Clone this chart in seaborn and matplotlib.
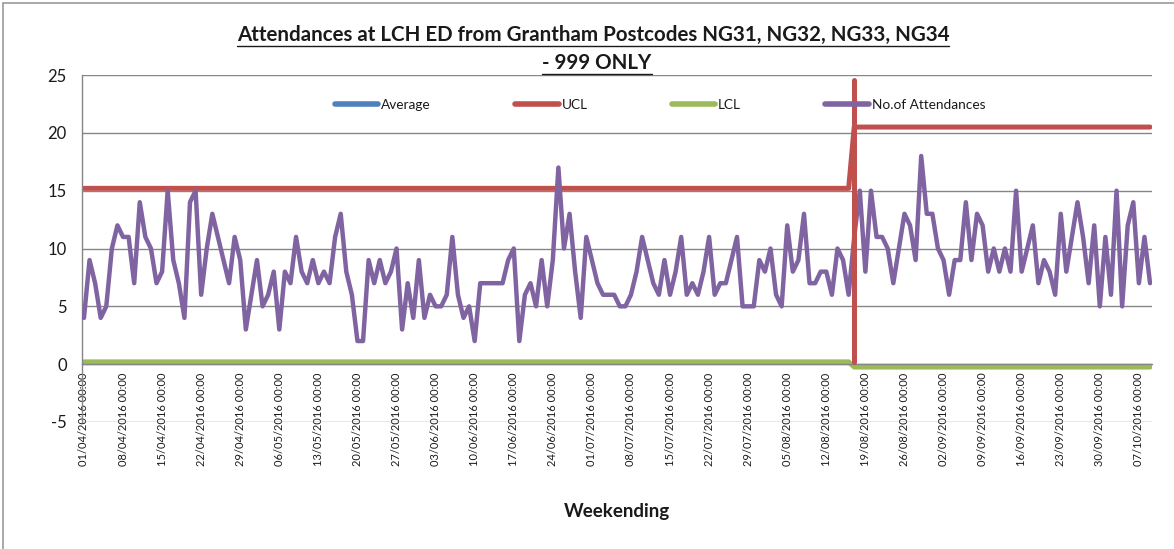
import matplotlib
matplotlib.use("Agg")
import matplotlib.pyplot as plt
import seaborn as sns
import pandas as pd
from matplotlib.lines import Line2D
from matplotlib.patches import Rectangle

# daily 999 attendances, 01/04/2016 onwards
attendances = [
    4, 9, 7, 4, 5, 10, 12, 11, 11, 7, 14, 11, 10, 7, 8, 15, 9, 7, 4, 14,
    15, 6, 10, 13, 11, 9, 7, 11, 9, 3, 6, 9, 5, 6, 8, 3, 8, 7, 11, 8,
    7, 9, 7, 8, 7, 11, 13, 8, 6, 2, 2, 9, 7, 9, 7, 8, 10, 3, 7, 4,
    9, 4, 6, 5, 5, 6, 11, 6, 4, 5, 2, 7, 7, 7, 7, 7, 9, 10, 2, 6,
    7, 5, 9, 5, 9, 17, 10, 13, 8, 4, 11, 9, 7, 6, 6, 6, 5, 5, 6, 8,
    11, 9, 7, 6, 9, 6, 8, 11, 6, 7, 6, 8, 11, 6, 7, 7, 9, 11, 5, 5,
    5, 9, 8, 10, 6, 5, 12, 8, 9, 13, 7, 7, 8, 8, 6, 10, 9, 6, 11, 15,
    8, 15, 11, 11, 10, 7, 10, 13, 12, 9, 18, 13, 13, 10, 9, 6, 9, 9, 14, 9,
    13, 12, 8, 10, 8, 10, 8, 15, 8, 10, 12, 7, 9, 8, 6, 13, 8, 11, 14, 11,
    7, 12, 5, 11, 6, 15, 5, 12, 14, 7, 11, 7,
]
start_date = "2016-04-01"

# control limits before / after the process change
change_day = 138
ucl = [15.2] * change_day + [20.5] * (len(attendances) - change_day)
lcl = [0.2] * change_day + [-0.25] * (len(attendances) - change_day)
change_line = [0.2, 24.6]

title_1 = "Attendances at LCH ED from Grantham Postcodes NG31, NG32, NG33, NG34"
title_2 = "- 999 ONLY"

BLUE, RED, GREEN, PURPLE = "#4F81BD", "#C0504D", "#9BBB59", "#8064A2"
GREY = "#868686"
TEXT = "#1a1a1a"

sns.set_style("white")
plt.rcParams["font.family"] = ["Lato", "DejaVu Sans"]
plt.rcParams["axes.unicode_minus"] = False

dates = pd.date_range(start_date, periods=len(attendances), freq="D")
df = pd.DataFrame({
    "day": range(len(dates)),
    "ucl": ucl,
    "lcl": lcl,
    "attendances": attendances,
})

W, H = 1174, 549
fig = plt.figure(figsize=(W / 100, H / 100), dpi=100)
ax = fig.add_axes([82 / W, 1 - 422 / H, (1152 - 82) / W, (422 - 75) / H])

line_kw = dict(solid_capstyle="round", solid_joinstyle="round")
sns.lineplot(data=df, x="day", y="ucl", color=RED, lw=3.6, ax=ax, **line_kw)
sns.lineplot(data=df, x="day", y="lcl", color=GREEN, lw=3.6, ax=ax, **line_kw)
sns.lineplot(data=df, x="day", y="attendances", color=PURPLE, lw=3.2, ax=ax, zorder=4, **line_kw)
sns.lineplot(x=[change_day] * 2, y=change_line, estimator=None, sort=False,
             color=RED, lw=3.6, ax=ax, zorder=5, **line_kw)

# horizontal axis crosses at zero, as in the Excel chart
for side in ("top", "right"):
    ax.spines[side].set_visible(False)
ax.spines["bottom"].set_position(("data", 0))
for side in ("bottom", "left"):
    ax.spines[side].set_color(GREY)
    ax.spines[side].set_linewidth(1)

n = len(attendances)
ax.set_xlim(-0.35, n - 1 + 0.35)
ax.set_ylim(-5, 25)
ax.set_yticks(range(-5, 26, 5))
ax.yaxis.grid(True, color=GREY, lw=1)
ax.set_axisbelow(True)

ticks = list(range(0, n, 7))
ax.set_xticks(ticks)
ax.set_xticklabels(dates[ticks].strftime("%d/%m/%Y %H:%M"), fontsize=8, color=TEXT)
ax.tick_params(axis="x", direction="out", length=4, width=1, color=GREY, pad=2,
               labelrotation=90)
ax.tick_params(axis="y", direction="out", length=5, width=1, color=GREY, pad=6,
               labelsize=12, labelcolor=TEXT)

ax.set_ylabel("")
ax.set_xlabel("Weekending", fontsize=13.5, fontweight="bold", color=TEXT)
ax.xaxis.set_label_coords(0.5, -0.232)

handles = [Line2D([], [], color=c, lw=4, solid_capstyle="round")
           for c in (BLUE, RED, GREEN, PURPLE)]
ax.legend(handles, ["Average", "UCL", "LCL", "No.of Attendances"],
          ncol=4, frameon=False, loc="center",
          bbox_to_anchor=(660 / W, 1 - 105 / H), bbox_transform=fig.transFigure,
          prop={"size": 9.8}, handlelength=3.2, handletextpad=0.2,
          columnspacing=6.2, labelcolor=TEXT)

t1 = fig.text(593 / W, 1 - 35 / H, title_1, ha="center", va="center",
              fontsize=14.8, fontweight="bold", color=TEXT)
t2 = fig.text(597 / W, 1 - 63 / H, title_2, ha="center", va="center",
              fontsize=14.8, fontweight="bold", color=TEXT)

# underline the title lines
fig.canvas.draw()
renderer = fig.canvas.get_renderer()
inv = fig.transFigure.inverted()
for t in (t1, t2):
    bb = t.get_window_extent(renderer)
    (x0, y0), (x1, _) = inv.transform([(bb.x0, bb.y0 - 1), (bb.x1, bb.y0)])
    fig.add_artist(Line2D([x0, x1], [y0, y0], transform=fig.transFigure,
                          color=TEXT, lw=1))

# chart border
fig.add_artist(Rectangle((3 / W, -0.1), 1.2, 1.1 - 3 / H, transform=fig.transFigure,
                         fill=False, edgecolor="#9a9a9a", lw=1.2))

fig.savefig("out.png", dpi=100)
